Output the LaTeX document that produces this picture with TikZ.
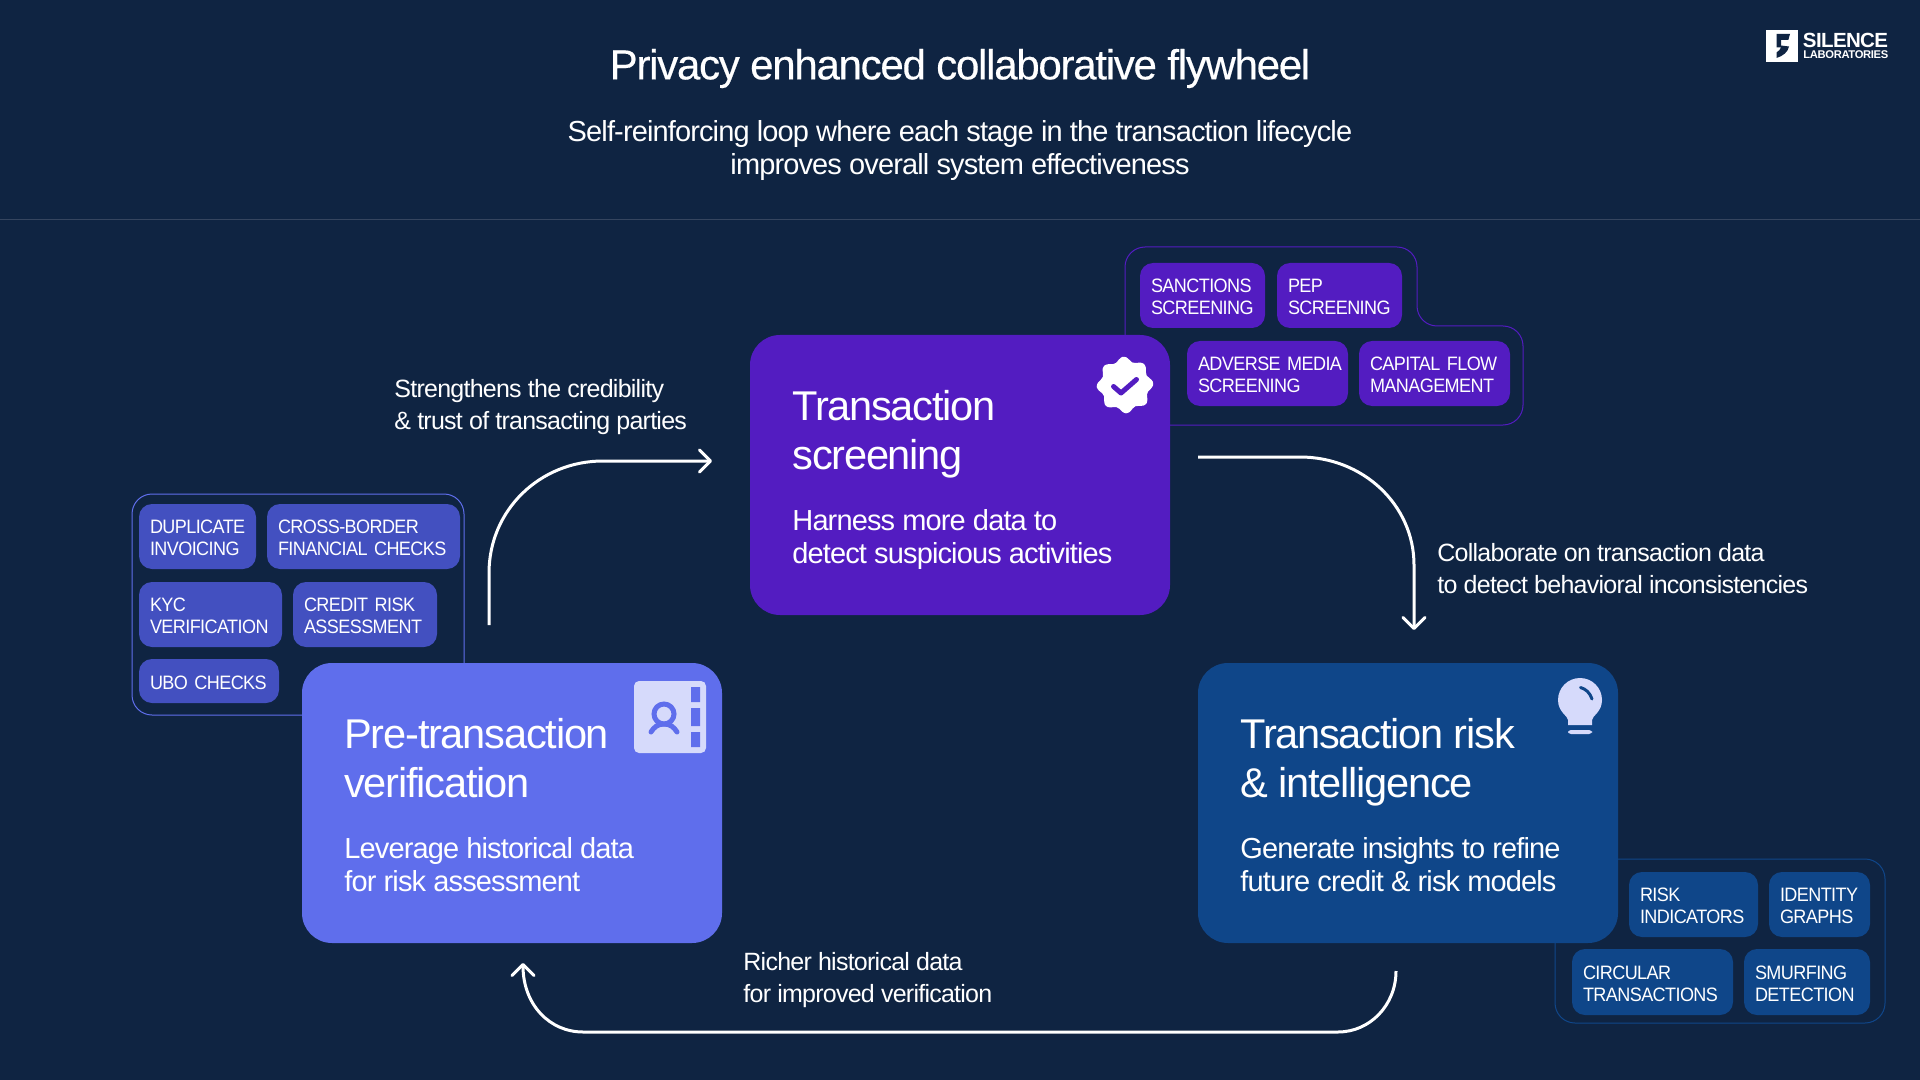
\documentclass[tikz,border=0pt]{standalone}
\usepackage{fontspec}
\usetikzlibrary{arrows.meta,calc}
\setmainfont{Liberation Sans}[LetterSpace=-3]
\newfontfamily\titlefont{Liberation Sans}[FakeBold=0.4,LetterSpace=-3]
\newfontfamily\chipfont{Liberation Sans}[FakeStretch=0.93,LetterSpace=-3,WordSpace=0.6]
\definecolor{bgnavy}{HTML}{0F2442}
\definecolor{rulecol}{HTML}{35455F}
\definecolor{cpurple}{HTML}{531CC1}
\definecolor{cperi}{HTML}{5F6EEC}
\definecolor{cblue}{HTML}{0F4689}
\definecolor{cchip}{HTML}{4350C0}
\definecolor{iconlight}{HTML}{D6DAFB}
\newcommand{\fs}[2]{\fontsize{#1}{#2}\selectfont}
\newcommand{\chipbox}[7]{\node[chipnode,#6,minimum width=\fpeval{(#4-#2)/2}pt,minimum height=\fpeval{(#5-#3)/2}pt,text width=\fpeval{(#4-#2)/2-11}pt] (#1) at ({(#2+#4)/2},{(#3+#5)/2}) {\rule{0pt}{8.3pt}#7};}
\newcommand{\cardbox}[6]{\node[cardnode,fill=#6,minimum width=\fpeval{(#4-#2)/2}pt,minimum height=\fpeval{(#5-#3)/2}pt] (#1) at ({(#2+#4)/2},{(#3+#5)/2}) {};}
\tikzset{
 chipnode/.style={rounded corners=6.5pt,inner xsep=0pt,inner ysep=0pt,align=left,text=white,font=\chipfont\fs{9.7}{11}},
 cardnode/.style={rounded corners=15pt,inner sep=0pt},
 chippurple/.style={fill=cpurple},
 chipperi/.style={fill=cchip},
 chipblue/.style={fill=cblue},
 headtext/.style={anchor=west,align=left,text=white,inner sep=0pt,font=\fs{20.8}{24.5}},
 desctext/.style={anchor=west,align=left,text=white,inner sep=0pt,font=\fs{14.5}{16.5}},
 labeltext/.style={anchor=west,align=left,text=white,inner sep=0pt,font=\fs{12.5}{16}},
 flowline/.style={white,line width=1.5pt},
 flowarrow/.style={flowline,-{Straight Barb[length=5.5pt,width=11pt,line width=1.5pt,round]}},
 wrapline/.style={line width=0.5pt,rounded corners=10pt},
}
\begin{document}
\begin{tikzpicture}[x=0.5pt,y=-0.5pt]
\fill[bgnavy] (0,0) rectangle (1920,1080);
\useasboundingbox (0,0) rectangle (1920,1080);
% header
\node[text=white,inner sep=0pt,font=\titlefont\fs{21}{25}] (title) at (960,68.5) {Privacy enhanced collaborative flywheel};
\node[text=white,inner sep=0pt,align=center,font=\fs{14.5}{16.5}] (subtitle) at (960,150.5) {Self-reinforcing loop where each stage in the transaction lifecycle\\improves overall system effectiveness};
\coordinate (ruleL) at (0,219.5);
\coordinate (ruleR) at (1920,219.5);
\draw[rulecol,line width=0.6pt] (ruleL) -- (ruleR);
% logo
\fill[white] (1766,30) rectangle (1798,62);
\fill[bgnavy] (1776.5,34) -- (1790,34) -- (1788.3,40) -- (1781,40) -- (1781,45.5) -- (1789,46.5) .. controls (1788,52) and (1783,56) .. (1776.5,58) -- (1776.5,52.5) .. controls (1779,51) and (1780,49.5) .. (1781,47.5) -- (1776.5,47.5) -- cycle;
\node[anchor=base west,inner sep=0pt,text=white,font=\bfseries\fs{10.25}{11}] (logoA) at (1802.5,48) {SILENCE};
\node[anchor=base west,inner sep=0pt,text=white,font=\bfseries\fs{5.6}{6}] (logoB) at (1803,59) {LABORATORIES};
% wrappers
\coordinate (wsA) at (1125,335);
\coordinate (wsB) at (1170,425);
\draw[cpurple,wrapline] (wsA) -- (1125,247) -- (1417,247) -- (1417,326) -- (1523,326) -- (1523,425) -- (wsB);
\coordinate (wpA) at (464,664);
\coordinate (wpB) at (302,715);
\draw[cperi,wrapline] (wpA) -- (464,494) -- (132,494) -- (132,715) -- (wpB);
\coordinate (wbA) at (1618,859);
\coordinate (wbB) at (1555,943);
\draw[cblue,wrapline] (wbA) -- (1885,859) -- (1885,1023) -- (1555,1023) -- (wbB);
% chips purple
\chipbox{sanctions}{1140}{263}{1265}{328}{chippurple}{SANCTIONS\\SCREENING}
\chipbox{pep}{1277}{263}{1402}{328}{chippurple}{PEP\\SCREENING}
\chipbox{adverse}{1187}{341}{1348}{406}{chippurple}{\mbox{ADVERSE MEDIA}\\SCREENING}
\chipbox{capital}{1359}{341}{1510}{406}{chippurple}{\mbox{CAPITAL FLOW}\\MANAGEMENT}
% chips periwinkle
\chipbox{duplicate}{139}{504}{256}{569}{chipperi}{DUPLICATE\\INVOICING}
\chipbox{crossborder}{267}{504}{460}{569}{chipperi}{CROSS-BORDER\\\mbox{FINANCIAL CHECKS}}
\chipbox{kyc}{139}{582}{282}{647}{chipperi}{KYC\\VERIFICATION}
\chipbox{credit}{293}{582}{437}{647}{chipperi}{\mbox{CREDIT RISK}\\ASSESSMENT}
\chipbox{ubo}{139}{659}{279}{703}{chipperi}{\mbox{UBO CHECKS}}
% chips blue
\chipbox{risk}{1629}{872}{1758}{937}{chipblue}{RISK\\INDICATORS}
\chipbox{identity}{1769}{872}{1870}{937}{chipblue}{IDENTITY\\GRAPHS}
\chipbox{circular}{1572}{949}{1733}{1015}{chipblue}{CIRCULAR\\TRANSACTIONS}
\chipbox{smurfing}{1744}{949}{1870}{1015}{chipblue}{SMURFING\\DETECTION}
% cards
\cardbox{cardscreen}{750}{335}{1170}{615}{cpurple}
\cardbox{cardpre}{302}{663}{722}{943}{cperi}
\cardbox{cardrisk}{1198}{663}{1618}{943}{cblue}
% card texts
\node[headtext] (hscreen) at (792,434) {Transaction\\screening};
\node[desctext] (dscreen) at (792,539.5) {Harness more data to\\detect suspicious activities};
\node[headtext] (hpre) at (344,758) {Pre-transaction\\verification};
\node[desctext] (dpre) at (344,865) {Leverage historical data\\for risk assessment};
\node[headtext] (hrisk) at (1240,762) {Transaction risk\\\& intelligence};
\node[desctext] (drisk) at (1240,865) {Generate insights to refine\\future credit \& risk models};
% flow labels
\node[labeltext] (l1) at (394,407) {Strengthens the credibility\\\& trust of transacting parties};
\node[labeltext] (l2) at (1437,569) {Collaborate on transaction data\\to detect behavioral inconsistencies};
\node[labeltext] (l3) at (743,980) {Richer historical data\\for improved verification};
% connectors
\coordinate (a1s) at (489,625);
\coordinate (a1e) at (712,461);
\draw[flowarrow] (a1s) -- (489,573) .. controls (489,510) and (540,461) .. (603,461) -- (a1e);
\coordinate (a2s) at (1198,457);
\coordinate (a2e) at (1414,630);
\draw[flowarrow] (a2s) -- (1300,457) .. controls (1363,457) and (1414,505) .. (1414,565) -- (a2e);
\coordinate (a3s) at (1396,971);
\coordinate (a3e) at (523,963);
\draw[flowarrow] (a3s) .. controls (1396,1005) and (1370,1032) .. (1338,1032) -- (583,1032) .. controls (550,1032) and (523,1005) .. (a3e);
% badge icon
\fill[white] plot[smooth cycle,domain=0:352,samples=45,variable=\ang] ({1125+(26+2.4*cos(8*\ang+22.5))*cos(\ang)},{385+(26+2.4*cos(8*\ang+22.5))*sin(\ang)});
\draw[cpurple,line width=2.5pt,line cap=round,line join=round] (1113.5,386.5) -- (1121,393) -- (1136.5,379.5);
% contact icon
\fill[iconlight,rounded corners=2.5pt] (634,681) rectangle (706,753);
\fill[cperi] (691,687) rectangle (700,702) (691,708) rectangle (700,726) (691,732) rectangle (700,747);
\draw[cperi,line width=2.5pt] (664,714) circle (10);
\draw[cperi,line width=2.5pt,line cap=round] (651,732) .. controls (654,727) and (658,724) .. (664,724) .. controls (670,724) and (674,727) .. (677,732);
% bulb icon
\fill[iconlight] (1568,725) -- (1568,720) .. controls (1568,716) and (1558,712) .. (1558,700) arc[start angle=180,end angle=360,radius=22] .. controls (1602,712) and (1592,716) .. (1592,720) -- (1592,725) -- cycle;
\fill[iconlight,rounded corners=1.5pt] (1568,730) rectangle (1592,734);
\draw[cblue,line width=1.5pt,line cap=round] (1580.5,687.5) .. controls (1586,689) and (1590,693) .. (1592,699);
\end{tikzpicture}
\end{document}
